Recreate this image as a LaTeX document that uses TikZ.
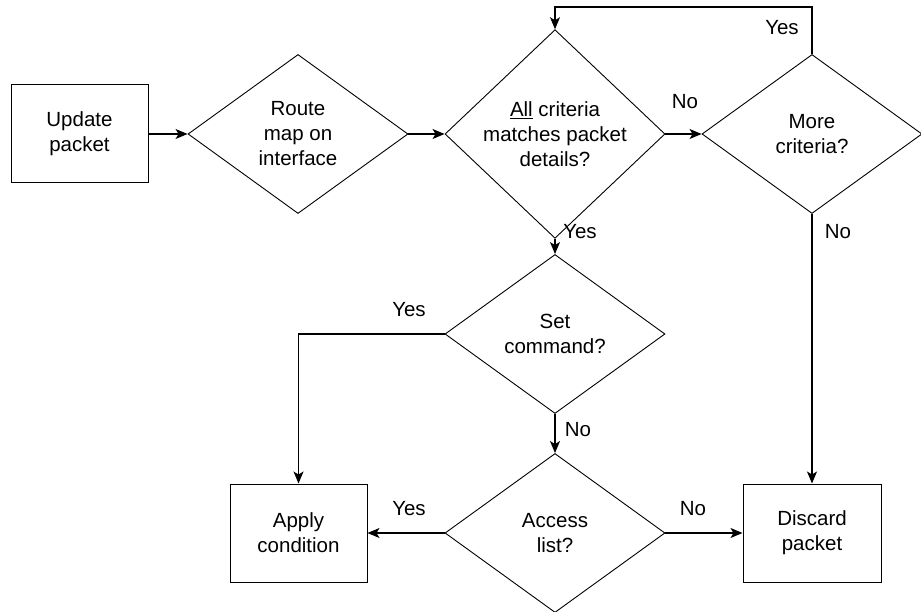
\documentclass[tikz,border=0pt]{standalone}
\usepackage{fontspec}
\setmainfont{Liberation Sans}
\usetikzlibrary{shapes.geometric,arrows.meta}
\definecolor{ink}{RGB}{0,0,0}

\begin{document}
\begin{tikzpicture}[x=1pt,y=1pt,line join=miter,
  txt/.style={font=\fontsize{20.5}{25}\selectfont,text=ink,align=center},
  stepbox/.style={txt,draw=ink,line width=1pt,minimum width=137pt,minimum height=98pt,inner sep=0pt},
  choice/.style={txt,draw=ink,line width=.9pt,shape=diamond,minimum width=220pt,minimum height=159pt,inner sep=0pt},
  flow/.style={draw=ink,line width=1.2pt,-{Stealth[length=12pt,width=10pt,inset=3pt]}},
  answer/.style={txt}]
\useasboundingbox (0,0) rectangle (921,611);
\node[stepbox] (update) at (79.5,477) {Update\\packet};
\node[choice] (route) at (298,477) {Route\\map on\\interface};
\node[choice] (allcrit) at (555,477) {\underline{All} criteria\\matches packet\\details?};
\node[choice] (more) at (812,477) {More\\criteria?};
\node[choice] (setcmd) at (555,277) {Set\\command?};
\node[choice] (access) at (555,78) {Access\\list?};
\node[stepbox] (apply) at (298.5,78) {Apply\\condition};
\node[stepbox,minimum width=138pt] (discard) at (812,78) {Discard\\packet};
\coordinate (looptop) at (700,604);
\draw[flow] (update) -- (route);
\draw[flow] (route) -- (allcrit);
\draw[flow] (allcrit) -- (more);
\draw[flow] (more.north) |- (looptop) -| (allcrit.north);
\draw[flow] (more.south) -- (discard.north);
\draw[flow] (allcrit.south) -- (setcmd.north);
\draw[flow] (setcmd.west) -| (apply.north);
\draw[flow] (setcmd.south) -- (access.north);
\draw[flow] (access.west) -- (apply.east);
\draw[flow] (access.east) -- (discard.west);
\node[answer] (noa) at (685,509) {No};
\node[answer] (yesa) at (782,583) {Yes};
\node[answer] (yesb) at (580,379) {Yes};
\node[answer] (nob) at (838,379) {No};
\node[answer] (yesc) at (409,301) {Yes};
\node[answer] (noc) at (578,181) {No};
\node[answer] (yesd) at (409,102) {Yes};
\node[answer] (nod) at (693,102) {No};
\end{tikzpicture}
\end{document}
